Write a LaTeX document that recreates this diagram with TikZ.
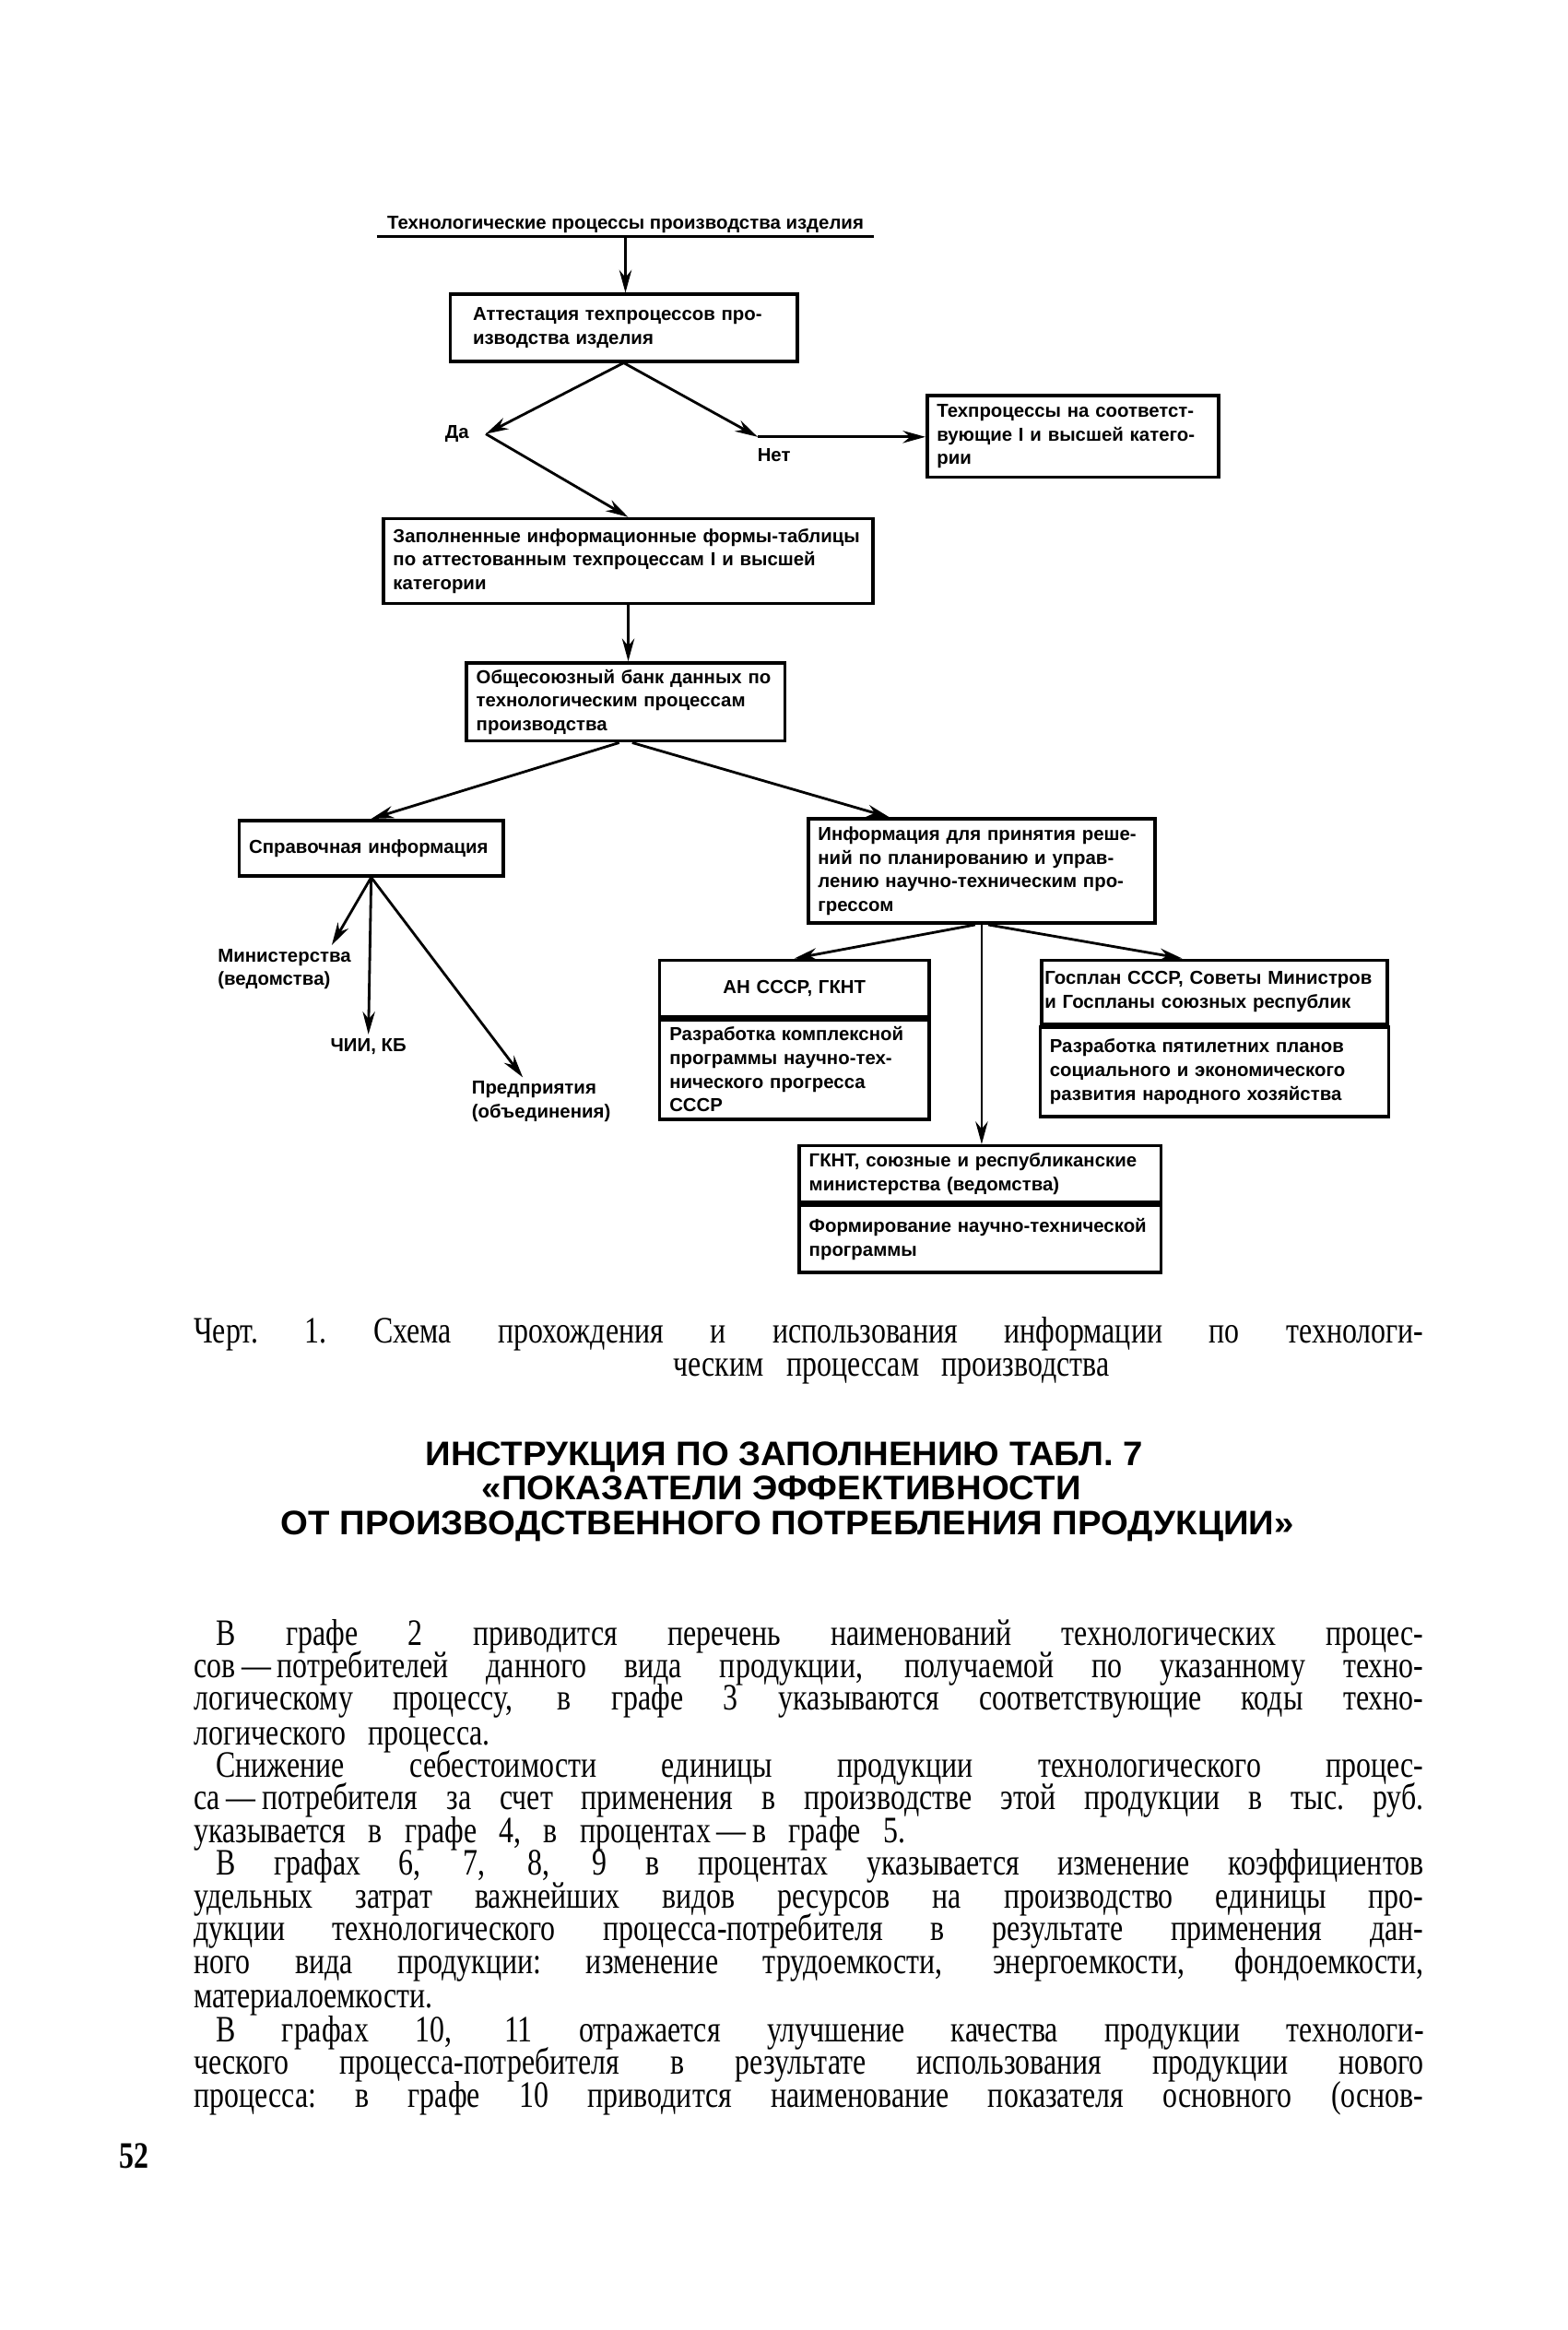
\documentclass[tikz,border=0pt]{standalone}
\usepackage{fontspec}
\setmainfont{Liberation Serif}[FakeStretch=0.79]
\newfontfamily\diagfont{Liberation Sans}
\newfontfamily\headfont{Liberation Sans}[FakeStretch=1.04]
\usepackage{tikz}
\usetikzlibrary{positioning,arrows.meta}
\tikzstyle{arrow} = [thick,->,>={Stealth[length=7pt,width=3.8pt]}]
\tikzstyle{box} = [draw, line width=1pt, anchor=north west, inner xsep=3pt, inner ysep=2pt, align=left, font=\diagfont\bfseries\fontsize{5.8}{7.3}\selectfont]
\tikzstyle{lbl} = [align=left, inner sep=1pt, font=\diagfont\bfseries\fontsize{5.8}{7.3}\selectfont]
\tikzstyle{txt} = [anchor=base west, inner sep=0pt, font=\fontsize{11.5}{12}\selectfont\bodysp]
\tikzstyle{head} = [anchor=base, inner sep=0pt, font=\headfont\bfseries\fontsize{10.5}{12}\selectfont]
\newcommand{\bodysp}{\spaceskip=0.6em plus 1em minus 0.3em\xspaceskip=0.6em plus 1em minus 0.3em}
\newcommand{\jline}[1]{\makebox[13.34cm][s]{#1}}
\newcommand{\jind}[1]{\makebox[13.10cm][s]{#1}}

\begin{document}
\begin{tikzpicture}[x=0.016114cm, y=-0.016114cm]
\useasboundingbox (0,0) rectangle (1055,1568);
\fill[white] (0,0) rectangle (1055,1568);

% scheme
\node (title) [lbl, anchor=base, inner xsep=3pt] at (421,154) {Технологические процессы производства изделия};
\draw[thick] (title.south west) -- (title.south east);
\node (b1) [box, inner xsep=7pt, text width=3.27cm, minimum height=0.725cm] at (302,197) {Аттестация техпроцессов про-\\изводства изделия};
\node (b3) [box, text width=2.95cm, minimum height=0.886cm] at (623,265) {Техпроцессы на соответст-\\вующие I и высшей катего-\\рии};
\node (b2) [box, text width=5.10cm, minimum height=0.92cm] at (257,348) {Заполненные информационные формы-таблицы\\по аттестованным техпроцессам I и высшей\\категории};
\node (b4) [box, text width=3.24cm, minimum height=0.76cm] at (313,445) {Общесоюзный банк данных по\\технологическим процессам\\производства};
\node (b5) [box, text width=2.65cm, minimum height=0.60cm] at (160,551) {Справочная информация};
\node (b6) [box, text width=3.55cm, minimum height=1.13cm] at (543,550) {Информация для принятия реше-\\ний по планированию и управ-\\лению научно-техническим про-\\грессом};
\node (b7t) [box, text width=2.71cm, minimum height=0.61cm, align=center] at (443,645) {АН СССР, ГКНТ};
\node (b7b) [box, text width=2.71cm, minimum height=1.08cm, below=0pt of b7t] {Разработка комплексной\\программы научно-тех-\\нического прогресса\\СССР};
\node (b8t) [box, text width=3.68cm, inner xsep=1pt, minimum height=0.69cm] at (700,645) {Госплан СССР, Советы Министров\\и Госпланы союзных республик};
\node (b8b) [box, text width=3.57cm, minimum height=0.97cm, below=0pt of b8t] {Разработка пятилетних планов\\социального и экономического\\развития народного хозяйства};
\node (b9t) [box, text width=3.71cm, minimum height=0.61cm] at (537,770) {ГКНТ, союзные и республиканские\\министерства (ведомства)};
\node (b9b) [box, text width=3.71cm, minimum height=0.73cm, below=0pt of b9t] {Формирование научно-технической\\программы};

\coordinate (da) at (327,292);
\coordinate (net) at (510,294);
\node (daL) [lbl, left=4pt of da] {Да};
\node (netL) [lbl] at (521,306) {Нет};
\node (minist) [lbl, anchor=north west] at (144,636) {Министерства\\(ведомства)};
\node (chii) [lbl] at (248,704) {ЧИИ, КБ};
\node (pred) [lbl, anchor=north west] at (315,725) {Предприятия\\(объединения)};

\draw[arrow] (title.south) -- (title.south |- b1.north);
\draw[arrow] (b1.south) -- (da);
\draw[arrow] (da) -- (b2.north);
\draw[arrow] (b1.south) -- (net);
\draw[arrow] (net) -- (net -| b3.west);
\draw[arrow] (b2.south) -- (b2.south |- b4.north);
\draw[arrow] ([xshift=-2pt]b4.south) -- (b5.north);
\draw[arrow] ([xshift=2pt]b4.south) -- ([xshift=-1cm]b6.north);
\draw[arrow] ([xshift=-2pt]b6.south) -- (b7t.north);
\draw[arrow] (b6.south) -- (b6.south |- b9t.north);
\draw[arrow] ([xshift=2pt]b6.south) -- ([xshift=-0.35cm]b8t.north);
\draw[arrow] (b5.south) -- ([xshift=-0.25cm]minist.north east);
\draw[arrow] (b5.south) -- (chii.north);
\draw[arrow] (b5.south) -- ([xshift=-0.2cm]pred.north);

% caption
\node (cap1) [txt] at (130,904) {\jline{Черт. 1. Схема прохождения и использования информации по технологи-}};
\node (cap2) [txt] at (453,926) {ческим процессам производства};

% heading
\node (h1) [head] at (528,986) {ИНСТРУКЦИЯ ПО ЗАПОЛНЕНИЮ ТАБЛ. 7};
\node (h2) [head] at (526,1009) {«ПОКАЗАТЕЛИ ЭФФЕКТИВНОСТИ};
\node (h3) [head] at (530,1033) {ОТ ПРОИЗВОДСТВЕННОГО ПОТРЕБЛЕНИЯ ПРОДУКЦИИ»};

% body text
\node (t1) [txt] at (145,1107) {\jind{В графе 2 приводится перечень наименований технологических процес-}};
\node (t2) [txt] at (130,1129) {\jline{сов\,—\,потребителей данного вида продукции, получаемой по указанному техно-}};
\node (t3) [txt] at (130,1151) {\jline{логическому процессу, в графе 3 указываются соответствующие коды техно-}};
\node (t4) [txt] at (130,1174) {логического процесса.};
\node (t5) [txt] at (145,1196) {\jind{Снижение себестоимости единицы продукции технологического процес-}};
\node (t6) [txt] at (130,1218) {\jline{са\,—\,потребителя за счет применения в производстве этой продукции в тыс. руб.}};
\node (t7) [txt] at (130,1240) {указывается в графе 4, в процентах\,—\,в графе 5.};
\node (t8) [txt] at (145,1262) {\jind{В графах 6, 7, 8, 9 в процентах указывается изменение коэффициентов}};
\node (t9) [txt] at (130,1284) {\jline{удельных затрат важнейших видов ресурсов на производство единицы про-}};
\node (t10) [txt] at (130,1306) {\jline{дукции технологического процесса-потребителя в результате применения дан-}};
\node (t11) [txt] at (130,1328) {\jline{ного вида продукции: изменение трудоемкости, энергоемкости, фондоемкости,}};
\node (t12) [txt] at (130,1351) {материалоемкости.};
\node (t13) [txt] at (145,1374) {\jind{В графах 10, 11 отражается улучшение качества продукции технологи-}};
\node (t14) [txt] at (130,1396) {\jline{ческого процесса-потребителя в результате использования продукции нового}};
\node (t15) [txt] at (130,1418) {\jline{процесса: в графе 10 приводится наименование показателя основного (основ-}};
\node (page) [txt, font=\bfseries\fontsize{11.5}{12}\selectfont] at (80,1459) {52};
\end{tikzpicture}
\end{document}
